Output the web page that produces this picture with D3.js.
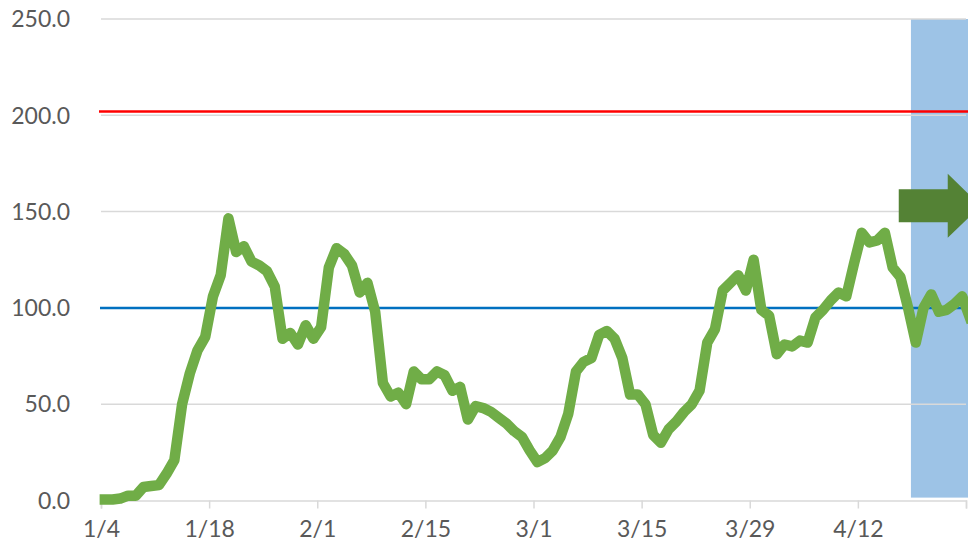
<!DOCTYPE html>
<html>
<head>
<meta charset="utf-8">
<script src="https://cdn.jsdelivr.net/npm/d3@7"></script>
<style>
  body { margin: 0; background: #fff; }
  svg { display: block; font-family: Lato, "Open Sans", sans-serif; }
</style>
</head>
<body>
<div id="chart"></div>
<script>
// daily values starting 1/4
var startDate = new Date(2021, 0, 4);
var values = [
  0.5, 0.5, 1, 2.5, 2.5, 7, 7.5, 8, 14, 21,
  50, 66, 78, 85, 106, 117, 146.5, 129, 132, 124,
  122, 119, 111, 84, 87, 81, 91, 84, 90, 121,
  131, 128, 122, 108, 113, 98, 61, 54, 56, 50,
  67, 63, 63, 67, 65, 57, 59, 42, 49, 48,
  46, 43, 40, 36, 33, 26, 20, 22, 26, 33,
  45, 67, 72, 74, 86, 88, 84, 74, 55, 55,
  50, 34, 30, 37, 41, 46, 50, 57, 82, 89,
  109, 113, 117, 109, 125, 99, 96, 76, 81, 80,
  83, 82, 95, 99, 104, 108, 106, 123, 139, 134,
  135, 139, 121, 116, 100, 82, 100, 107, 98, 99,
  102, 106, 95
];
var yTicks = [0, 50, 100, 150, 200, 250];
var xTickDates = ['1/4', '1/18', '2/1', '2/15', '3/1', '3/15', '3/29', '4/12', '4/26'];
var xLabelDates = ['1/4', '1/18', '2/1', '2/15', '3/1', '3/15', '3/29', '4/12'];
var upperLimit = 202;
var baseLine = 100;
var shadeStart = '4/19';
var shadeRange = [1.5, 250];
var arrowStart = 103.3;   // day index
var arrowValue = 153;

var parseMD = function (s) {
  var p = s.split('/');
  return new Date(2021, +p[0] - 1, +p[1]);
};
var fmtMD = d3.timeFormat('%-m/%-d');

var W = 968, H = 548;
var svg = d3.select('#chart').append('svg')
  .attr('width', W).attr('height', H);

var x = d3.scaleTime()
  .domain([parseMD('1/4'), parseMD('4/26')])
  .range([101, 966]);
var y = d3.scaleLinear().domain([0, 250]).range([500.5, 19]);

var data = values.map(function (v, i) {
  // points sit in the middle of their day slot
  return { date: d3.timeHour.offset(d3.timeDay.offset(startDate, i), 12), value: v };
});

// shaded forecast area
svg.append('rect')
  .attr('x', x(parseMD(shadeStart)) - 1)
  .attr('y', y(shadeRange[1]))
  .attr('width', W - x(parseMD(shadeStart)) + 1)
  .attr('height', y(shadeRange[0]) - y(shadeRange[1]))
  .attr('fill', '#9DC3E6');

// gridlines
svg.append('g').selectAll('line')
  .data(yTicks.filter(function (d) { return d > 0; }))
  .enter().append('line')
  .attr('x1', 101).attr('x2', 966)
  .attr('y1', function (d) { return y(d); })
  .attr('y2', function (d) { return y(d); })
  .attr('stroke', '#D9D9D9')
  .attr('stroke-width', 1.5);

// y labels
svg.append('g').selectAll('text')
  .data(yTicks)
  .enter().append('text')
  .attr('x', 70)
  .attr('y', function (d) { return y(d); })
  .attr('dy', '0.36em')
  .attr('text-anchor', 'end')
  .attr('font-size', 23)
  .attr('fill', '#595959')
  .text(d3.format('.1f'));

// x axis
var xAxis = d3.axisBottom(x)
  .tickValues(xTickDates.map(parseMD))
  .tickFormat(function (d) {
    var s = fmtMD(d);
    return xLabelDates.indexOf(s) >= 0 ? s : '';
  })
  .tickSize(8)
  .tickPadding(12);

var gx = svg.append('g')
  .attr('transform', 'translate(0,' + y(0) + ')')
  .call(xAxis);
gx.select('.domain').attr('stroke', '#D9D9D9').attr('stroke-width', 1.5);
gx.selectAll('.tick line').attr('stroke', '#D9D9D9').attr('stroke-width', 1.5);
gx.selectAll('.tick text')
  .attr('font-family', 'Lato, "Open Sans", sans-serif')
  .attr('font-size', 23)
  .attr('fill', '#595959');

// reference lines
svg.append('line')
  .attr('x1', 99).attr('x2', W)
  .attr('y1', y(upperLimit)).attr('y2', y(upperLimit))
  .attr('stroke', '#FF0000').attr('stroke-width', 2.5);
svg.append('line')
  .attr('x1', 100).attr('x2', W)
  .attr('y1', y(baseLine)).attr('y2', y(baseLine))
  .attr('stroke', '#0070C0').attr('stroke-width', 2.5);

// main series
var line = d3.line()
  .x(function (d) { return x(d.date); })
  .y(function (d) { return y(d.value); });

svg.append('path')
  .datum(data)
  .attr('d', line)
  .attr('fill', 'none')
  .attr('stroke', '#70AD47')
  .attr('stroke-width', 10.5)
  .attr('stroke-linejoin', 'round')
  .attr('stroke-linecap', 'square');

// arrow
var ax = x(d3.timeHour.offset(startDate, arrowStart * 24));
var ay = y(arrowValue);
var shaftLen = 49, shaftH = 16.5, headH = 32, headLen = 33;
svg.append('path')
  .attr('d', [
    'M', ax, ay - shaftH,
    'L', ax + shaftLen, ay - shaftH,
    'L', ax + shaftLen, ay - headH,
    'L', ax + shaftLen + headLen, ay,
    'L', ax + shaftLen, ay + headH,
    'L', ax + shaftLen, ay + shaftH,
    'L', ax, ay + shaftH, 'Z'
  ].join(' '))
  .attr('fill', '#548235');
</script>
</body>
</html>
